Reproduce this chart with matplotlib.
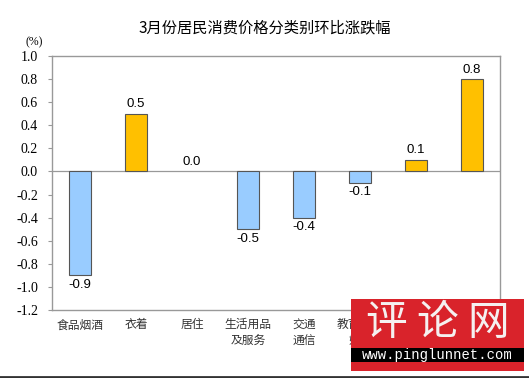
"""3月份居民消费价格分类别环比涨跌幅 — 柱状图复刻."""
import matplotlib
matplotlib.use("Agg")
import matplotlib.pyplot as plt
from matplotlib.patches import Rectangle
from matplotlib.lines import Line2D

plt.rcParams["font.family"] = ["Noto Sans CJK SC", "DejaVu Sans"]

categories = ["食品烟酒", "衣着", "居住", "生活用品\n及服务", "交通\n通信",
              "教育文化\n娱乐", "医疗保健", "其他用品\n和服务"]
values = [-0.9, 0.5, 0.0, -0.5, -0.4, -0.1, 0.1, 0.8]
yticks = [-1.2, -1.0, -0.8, -0.6, -0.4, -0.2, 0.0, 0.2, 0.4, 0.6, 0.8, 1.0]

BLUE = "#99CCFF"
YELLOW = "#FFC000"
EDGE = "#555555"
FRAME = "#999999"

W, H = 529, 378
fig = plt.figure(figsize=(W / 100, H / 100), dpi=100)
ax = fig.add_axes([52 / W, 1 - 310 / H, 448 / W, 254 / H])

x = range(len(categories))
colors = [YELLOW if v > 0 else BLUE for v in values]
bars = ax.bar(x, values, width=0.4, color=colors, edgecolor=EDGE, linewidth=0.8, zorder=3)
for b, v in zip(bars, values):
    if v == 0:
        b.set_visible(False)
ax.axhline(0, color=FRAME, lw=0.9, zorder=2)

for i, v in enumerate(values):
    off = 0.03 if v >= 0 else -0.03
    ax.text(i, v + off, f"{v:.1f}", ha="center", va="bottom" if v >= 0 else "top",
            fontsize=9.5, family="Liberation Sans", zorder=4)

ax.set_xlim(-0.5, len(categories) - 0.5)
ax.set_ylim(-1.2, 1.0)
ax.set_yticks(yticks)
ax.set_yticklabels([f"{t:.1f}" for t in yticks], family="Liberation Serif", fontsize=10)
ax.tick_params(axis="y", length=3, color=FRAME, pad=7)
ax.set_xticks(list(x))
ax.set_xticklabels(categories, fontsize=8.5, color="#333333", linespacing=1.3)
ax.tick_params(axis="x", length=0, pad=6)
for s in ax.spines.values():
    s.set_color(FRAME)
    s.set_linewidth(1.0)

fig.text(0.5, 1 - 28 / H, "3月份居民消费价格分类别环比涨跌幅", ha="center", va="center",
         fontsize=11)
fig.text(34 / W, 1 - 42 / H, "(%)", ha="center", va="center", fontsize=8.5,
         family="Liberation Serif")

# bottom border of the image
fig.add_artist(Line2D([0, 1], [1.5 / H, 1.5 / H], color="#333333", lw=2,
                      transform=fig.transFigure))

# watermark
fig.add_artist(Rectangle((351 / W, 1 - 371 / H), 173 / W, 72 / H,
                         transform=fig.transFigure, fc="#D9232B", ec="none", zorder=10))
fig.add_artist(Rectangle((351 / W, 1 - 362 / H), 173 / W, 14 / H,
                         transform=fig.transFigure, fc="black", ec="none", zorder=11))
fig.text(438 / W, 1 - 324 / H, "评 论 网", ha="center", va="center", fontsize=30,
         color="#F5F0F0", zorder=12)
fig.text(437 / W, 1 - 355 / H, "www.pinglunnet.com", ha="center", va="center",
         fontsize=10, color="white", family="Liberation Mono", zorder=12)

fig.savefig("out.png", dpi=100, facecolor="white")
